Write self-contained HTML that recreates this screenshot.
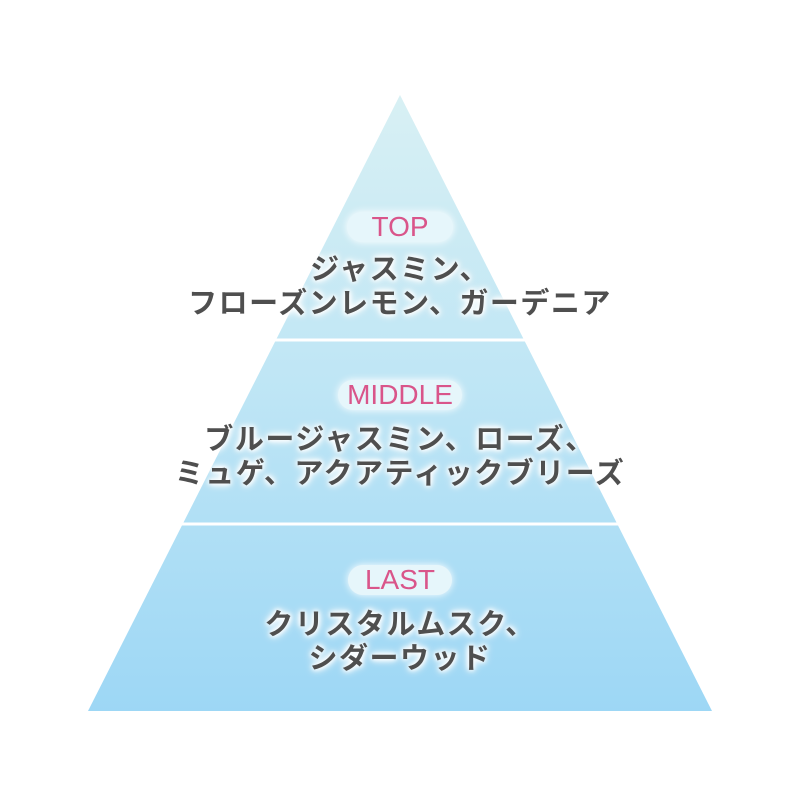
<!DOCTYPE html>
<html><head><meta charset="utf-8"><style>
body{margin:0;width:800px;height:800px;background:#fff;overflow:hidden;position:relative;font-family:"Liberation Sans","Noto Sans CJK JP",sans-serif}
.pill{position:absolute;left:50%;transform:translateX(-50%);height:30px;border-radius:15px;background:#e6f6fb;color:#d9558a;font-size:28px;line-height:30px;text-align:center;box-shadow:0 0 8px #fff}
.t{position:absolute;left:0;width:800px;text-align:center;color:#4f4f4f;font-size:29px;font-weight:bold;line-height:34px;letter-spacing:1.5px;text-shadow:0 0 4px #fff,0 0 6px #fff,0 0 8px #fff,0 0 10px #fff}
</style></head><body>
<svg width="800" height="800" style="position:absolute;left:0;top:0">
<defs><linearGradient id="g" x1="0" y1="0" x2="0" y2="1"><stop offset="0" stop-color="#d8f0f4"/><stop offset="0.5" stop-color="#bde5f5"/><stop offset="1" stop-color="#9dd7f5"/></linearGradient></defs>
<polygon points="400,95 712,711 88,711" fill="url(#g)"/>
<line x1="0" y1="340" x2="800" y2="340" stroke="#fff" stroke-width="3"/>
<line x1="0" y1="524" x2="800" y2="524" stroke="#fff" stroke-width="3"/>
</svg>
<div class="pill" style="top:212px;width:106px">TOP</div>
<div class="t" style="top:253px">ジャスミン、<br>フローズンレモン、ガーデニア</div>
<div class="pill" style="top:380px;width:124px">MIDDLE</div>
<div class="t" style="top:423px">ブルージャスミン、ローズ、<br>ミュゲ、アクアティックブリーズ</div>
<div class="pill" style="top:565px;width:104px">LAST</div>
<div class="t" style="top:608px">クリスタルムスク、<br>シダーウッド</div>
</body></html>
